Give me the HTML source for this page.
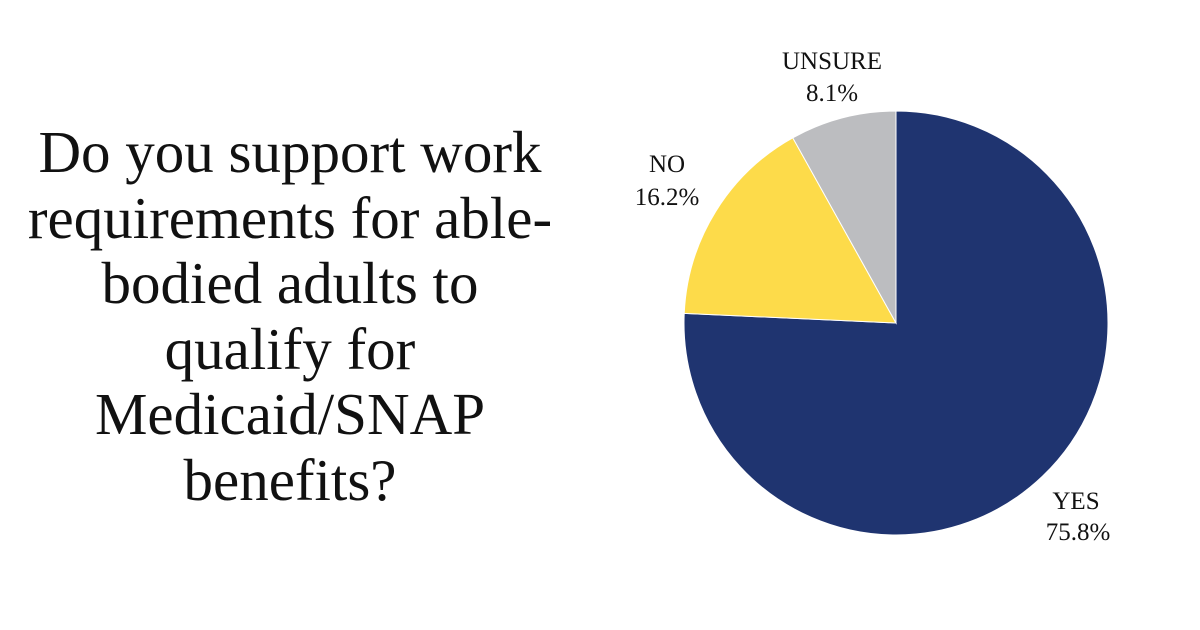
<!DOCTYPE html>
<html><head><meta charset="utf-8"><style>
body{margin:0;width:1200px;height:630px;background:#fff;overflow:hidden;font-family:"Liberation Serif",serif;}
#title{position:absolute;left:-10px;top:120px;width:600px;text-align:center;font-size:59px;line-height:65.5px;color:#111;}
svg{position:absolute;left:0;top:0}
</style></head><body>
<div id="title">Do you support work<br>requirements for able-<br>bodied adults to<br>qualify for<br>Medicaid/SNAP<br>benefits?</div>
<svg id="chart" width="1200" height="630"></svg>
<script>
const categories=["YES","NO","UNSURE"];
const values=[75.8,16.2,8.1];
const colors=["#1f3470","#fddb4a","#bcbdc0"];
const labelPos=[[1076,509,1078,540],[667,172,667,205],[832,69,832,101]];
const svg=document.getElementById('chart');
const NS="http://www.w3.org/2000/svg";
const cx=896,cy=323,r=212;
const total=values.reduce((a,b)=>a+b,0);
let a0=0;
values.forEach((v,i)=>{
  const a1=a0+v/total*2*Math.PI;
  const x0=cx+r*Math.sin(a0),y0=cy-r*Math.cos(a0);
  const x1=cx+r*Math.sin(a1),y1=cy-r*Math.cos(a1);
  const p=document.createElementNS(NS,'path');
  p.setAttribute('d',`M${cx},${cy}L${x0},${y0}A${r},${r} 0 ${a1-a0>Math.PI?1:0} 1 ${x1},${y1}Z`);
  p.setAttribute('fill',colors[i]);
  p.setAttribute('stroke','#fff');
  p.setAttribute('stroke-width','1');
  
  
  svg.appendChild(p);
  const lp=labelPos[i];
  [[categories[i],lp[0],lp[1]],[v.toFixed(1)+'%',lp[2],lp[3]]].forEach((t,j)=>{
    const tx=document.createElementNS(NS,'text');
    tx.setAttribute('x',t[1]);tx.setAttribute('y',t[2]);
    tx.setAttribute('text-anchor','middle');
    tx.setAttribute('font-size','25');
    tx.setAttribute('fill','#111');
    tx.setAttribute('font-family','"Liberation Serif",serif');
    tx.textContent=t[0];
    
    
    svg.appendChild(tx);
  });
  a0=a1;
});
</script>
</body></html>
